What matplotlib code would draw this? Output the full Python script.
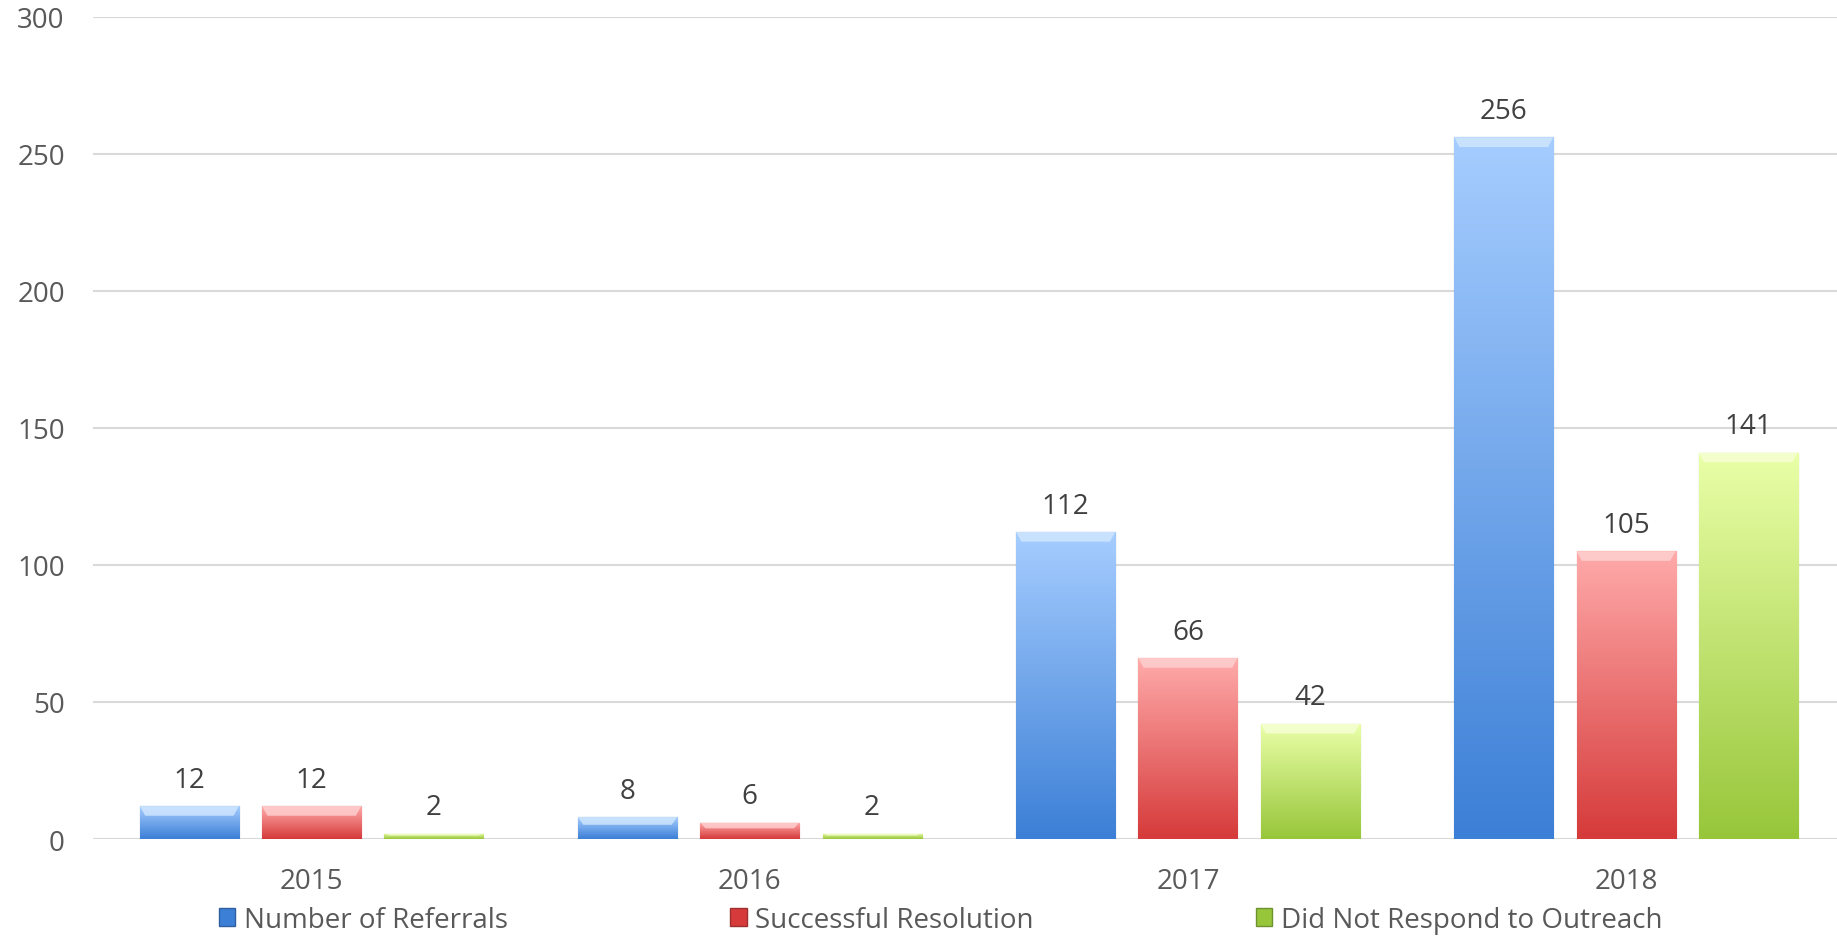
import matplotlib.pyplot as plt
import numpy as np
from matplotlib.colors import LinearSegmentedColormap
from matplotlib.patches import Patch, Polygon

plt.rcParams['font.family'] = ['Open Sans', 'DejaVu Sans']

years = ['2015', '2016', '2017', '2018']
referrals = [12, 8, 112, 256]
resolved = [12, 6, 66, 105]
no_response = [2, 2, 42, 141]

series = [
    ('Number of Referrals', referrals, '#a6cdff', '#3c7fd6', '#2f5f9e', '#d2e8ff'),
    ('Successful Resolution', resolved, '#ffaaaa', '#d63a3a', '#9e2f2f', '#ffd2d2'),
    ('Did Not Respond to Outreach', no_response, '#eaffa8', '#97c63a', '#6f9230', '#f6ffd6'),
]

fig = plt.figure(figsize=(18.37, 9.37), dpi=100)
ax = fig.add_axes([0.0504, 0.1035, 0.954, 0.8775])

x = np.arange(len(years))
width = 0.226
step = 0.279

handles = []
for i, (name, vals, top, bottom, edge, shine) in enumerate(series):
    pos = x + (i - 1) * step
    bars = ax.bar(pos, vals, width, color=bottom, edgecolor=edge, linewidth=0.8, zorder=3)
    cmap = LinearSegmentedColormap.from_list(name, [bottom, top])
    grad = np.linspace(0, 1, 256).reshape(-1, 1)
    for b, v in zip(bars, vals):
        x0 = b.get_x()
        im = ax.imshow(grad, cmap=cmap, origin='lower', aspect='auto',
                       extent=[x0, x0 + width, 0, v], zorder=3.5)
        im.set_clip_path(b)
        # bevel highlight at the top of each bar
        h = min(3.5, v * 0.35)
        ax.add_patch(Polygon([(x0, v), (x0 + width, v), (x0 + width - 0.012, v - h),
                              (x0 + 0.012, v - h)], closed=True, facecolor=shine,
                             edgecolor='none', alpha=0.8, zorder=3.6))
        ax.annotate(str(v), (b.get_x() + width / 2, v), xytext=(0, 9),
                    textcoords='offset points', ha='center', va='bottom',
                    fontsize=20, color='#404040')
    handles.append(Patch(facecolor=bottom, edgecolor=edge, label=name))

ax.set_xlim(-0.5, 3.5)
ax.set_ylim(0, 300)
ax.set_yticks(range(0, 301, 50))
ax.set_xticks(x)
ax.set_xticklabels(years)
ax.tick_params(length=0, labelsize=20, colors='#595959')
ax.tick_params(axis='x', pad=20)
ax.tick_params(axis='y', pad=20)
ax.grid(axis='y', color='#d9d9d9', linewidth=1.5, zorder=0)
ax.set_axisbelow(True)
for s in ax.spines.values():
    s.set_visible(False)

fig.legend(handles=handles, loc='center', bbox_to_anchor=(0.512, 0.017), ncol=3,
           frameon=False, fontsize=20, labelcolor='#595959', handlelength=0.6,
           handleheight=0.6, handletextpad=0.3, columnspacing=8.0)

fig.savefig('out.png', dpi=100)
